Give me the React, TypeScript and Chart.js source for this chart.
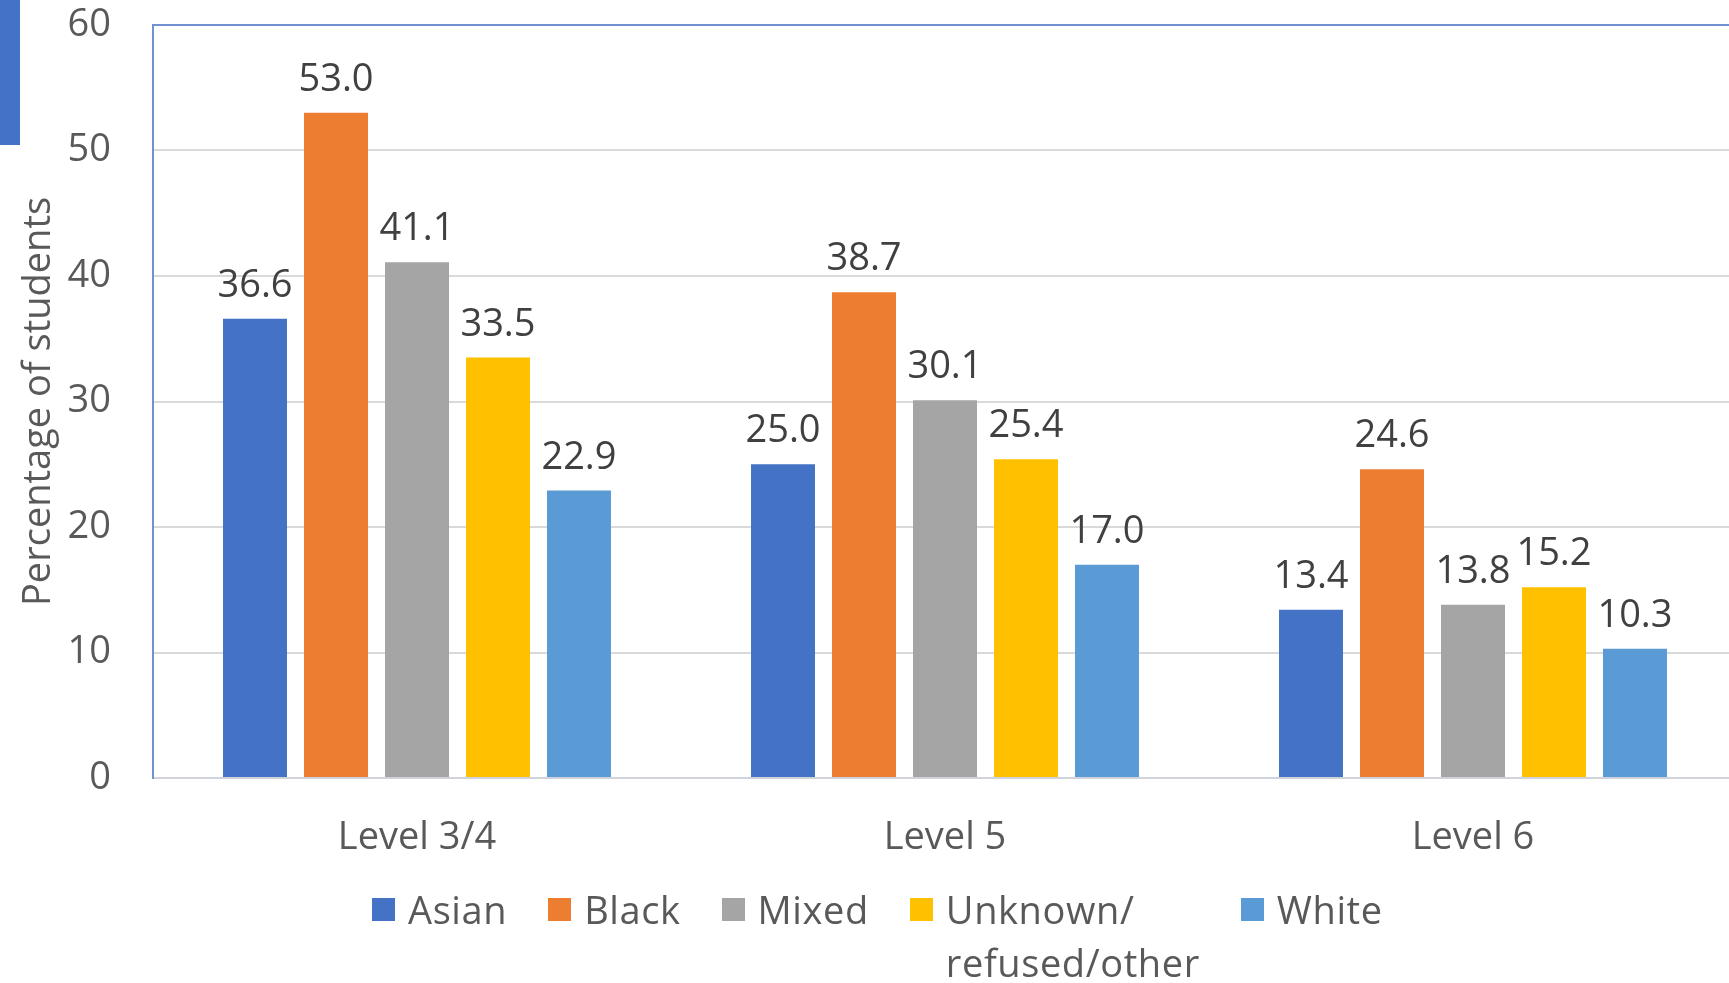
import React, { useEffect, useRef, useState } from "react";
import { Chart, registerables } from "chart.js";

Chart.register(...registerables);

// ---- data ----
const categories = ["Level 3/4", "Level 5", "Level 6"];
const seriesNames = ["Asian", "Black", "Mixed", "Unknown/\nrefused/other", "White"];
const asian = [36.6, 25.0, 13.4];
const black = [53.0, 38.7, 24.6];
const mixed = [41.1, 30.1, 13.8];
const unknownOther = [33.5, 25.4, 15.2];
const white = [22.9, 17.0, 10.3];
const yTicks = [0, 10, 20, 30, 40, 50, 60];
const yTitle = "Percentage of students";

// ---- styles ----
const seriesColors = ["#4472C4", "#ED7D31", "#A5A5A5", "#FFC000", "#5B9BD5"];
const FONT = "'Open Sans', 'Noto Sans', sans-serif";
const FONT_SIZE = 38;
const AXIS_TEXT = "#595959";
const LABEL_TEXT = "#404040";
const GRID = "#D9D9D9";
const FRAME_BLUE = "#7092D1";
const AXIS_LINE = "#D0D3DE";

const seriesValues = [asian, black, mixed, unknownOther, white];

const valueLabelPlugin = {
  id: "barValueLabels",
  afterDatasetsDraw(chart: any) {
    const { ctx } = chart;
    ctx.save();
    ctx.font = `${FONT_SIZE}px ${FONT}`;
    ctx.fillStyle = LABEL_TEXT;
    ctx.textAlign = "center";
    ctx.textBaseline = "alphabetic";
    chart.data.datasets.forEach((ds: any, i: number) => {
      const meta = chart.getDatasetMeta(i);
      meta.data.forEach((el: any, j: number) => {
        const v = ds.data[j] as number;
        ctx.fillText(v.toFixed(1), el.x, el.y - 22);
      });
    });
    ctx.restore();
  },
};

type LegendEntry = { text: string; color: string };

export default function App() {
  const canvasRef = useRef<HTMLCanvasElement | null>(null);
  const [legend, setLegend] = useState<LegendEntry[]>([]);

  useEffect(() => {
    const canvas = canvasRef.current;
    if (!canvas) return;
    const chart = new Chart(canvas, {
      type: "bar",
      data: {
        labels: categories,
        datasets: seriesNames.map((name, i) => ({
          label: name,
          data: seriesValues[i],
          backgroundColor: seriesColors[i],
          borderWidth: 0,
          categoryPercentage: 0.767,
          barPercentage: 0.79,
        })),
      },
      options: {
        animation: false,
        responsive: false,
        devicePixelRatio: 1,
        layout: { padding: { top: 25, right: 23, bottom: 142, left: 0 } },
        plugins: {
          legend: { display: false },
          tooltip: { enabled: false },
        },
        scales: {
          x: {
            grid: { display: false, drawTicks: false },
            border: { display: true, color: AXIS_LINE, width: 2 },
            ticks: {
              color: AXIS_TEXT,
              font: { family: FONT, size: FONT_SIZE },
              padding: 37,
              maxRotation: 0,
              autoSkip: false,
            },
            afterFit: (scale: any) => {
              scale.height = 80;
            },
          },
          y: {
            min: yTicks[0],
            max: yTicks[yTicks.length - 1],
            grid: {
              drawTicks: true,
              tickLength: 42,
              tickColor: "rgba(0,0,0,0)",
              lineWidth: 2,
              color: (c: any) =>
                c.tick && c.tick.value === yTicks[yTicks.length - 1]
                  ? FRAME_BLUE
                  : c.tick && c.tick.value === yTicks[0]
                  ? AXIS_LINE
                  : GRID,
            },
            border: { display: true, color: FRAME_BLUE, width: 2 },
            ticks: {
              stepSize: yTicks[1] - yTicks[0],
              color: AXIS_TEXT,
              font: { family: FONT, size: FONT_SIZE },
              padding: 0,
            },
            title: {
              display: true,
              text: yTitle,
              color: AXIS_TEXT,
              font: { family: FONT, size: FONT_SIZE, lineHeight: 78 / FONT_SIZE },
              padding: 0,
            },
            afterFit: (scale: any) => {
              scale.width = 153;
            },
          },
        },
      },
      plugins: [valueLabelPlugin],
    });

    const gen = (Chart.defaults.plugins.legend.labels as any).generateLabels(chart);
    setLegend(gen.map((it: any) => ({ text: it.text, color: it.fillStyle })));

    return () => {
      chart.destroy();
    };
  }, []);

  return (
    <div
      style={{
        position: "fixed",
        left: 0,
        top: 0,
        width: 1729,
        height: 983,
        overflow: "hidden",
        background: "#ffffff",
        fontFamily: FONT,
      }}
    >
      <div
        style={{
          position: "absolute",
          left: 0,
          top: 0,
          width: 20,
          height: 145,
          background: "#4472C4",
        }}
      />
      <canvas
        ref={canvasRef}
        width={1760}
        height={1000}
        style={{ position: "absolute", left: 0, top: 0, width: 1760, height: 1000 }}
      />
      <div
        style={{
          position: "absolute",
          left: 372,
          top: 883,
          display: "flex",
          alignItems: "flex-start",
          fontSize: FONT_SIZE,
          lineHeight: "53px",
          letterSpacing: "0.6px",
          color: AXIS_TEXT,
          whiteSpace: "pre-line",
        }}
      >
        {legend.map((it, i) => (
          <div
            key={i}
            style={{ display: "flex", alignItems: "flex-start", marginRight: 41 }}
          >
            <span
              style={{
                display: "inline-block",
                width: 23,
                height: 23,
                marginTop: 15,
                marginRight: 13,
                background: it.color,
                flex: "none",
              }}
            />
            <span>{it.text}</span>
          </div>
        ))}
      </div>
    </div>
  );
}
